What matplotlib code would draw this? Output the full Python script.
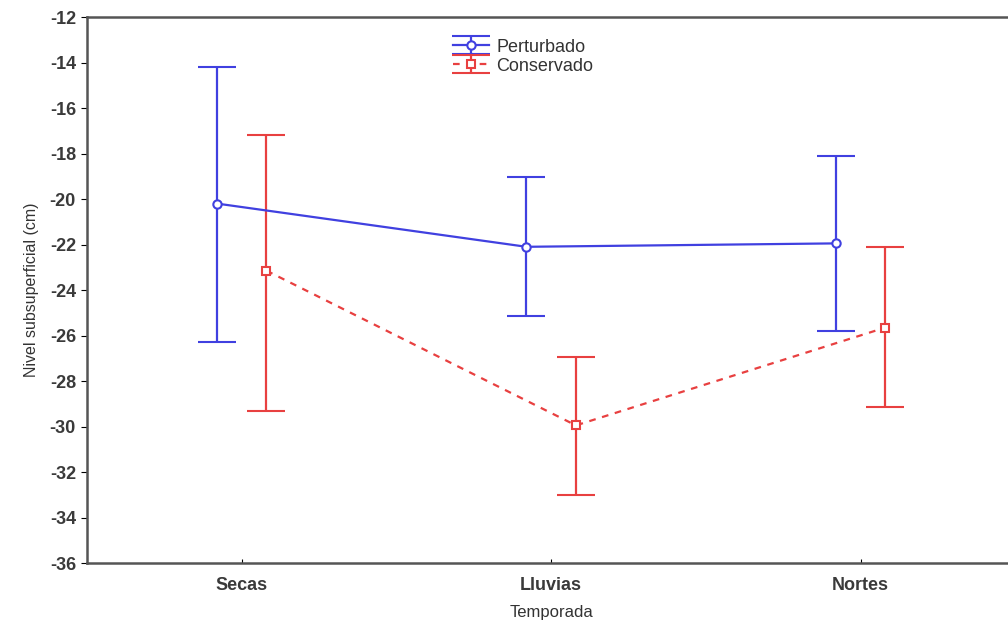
import matplotlib
matplotlib.use("Agg")
import matplotlib.pyplot as plt
import numpy as np

categories = ["Secas", "Lluvias", "Nortes"]
pert_mean = [-20.2, -22.1, -21.95]
pert_upper = [-14.2, -19.05, -18.1]
pert_lower = [-26.3, -25.15, -25.8]
cons_mean = [-23.15, -29.95, -25.65]
cons_upper = [-17.2, -26.95, -22.1]
cons_lower = [-29.3, -33.0, -29.15]

blue = "#4040e0"
red = "#e84040"

plt.rcParams['font.family'] = ['Liberation Sans', 'DejaVu Sans']
plt.rcParams['axes.unicode_minus'] = False
fig = plt.figure(figsize=(10.08, 6.26), dpi=100)
ax = fig.add_axes([0.0863, 0.1006, 0.921, 0.8722])

x = np.arange(len(categories))
off = 0.08

pm = np.array(pert_mean); cm = np.array(cons_mean)
perr = [pm - np.array(pert_lower), np.array(pert_upper) - pm]
cerr = [cm - np.array(cons_lower), np.array(cons_upper) - cm]

ax.errorbar(x - off, pm, yerr=perr, color=blue, lw=1.6, marker='o', ms=6,
            mfc='white', mec=blue, mew=1.5, capsize=14, capthick=1.6,
            elinewidth=1.6, label="Perturbado", zorder=3)
ax.errorbar(x + off, cm, yerr=cerr, color=red, lw=1.6, ls=(0, (3, 3)), marker='s', ms=6,
            mfc='white', mec=red, mew=1.5, capsize=14, capthick=1.6,
            elinewidth=1.6, label="Conservado", zorder=3)

ax.set_xlim(-0.5, 2.5)
ax.set_ylim(-36, -12)
ax.set_yticks(np.arange(-36, -11, 2))
ax.set_xticks(x)
ax.set_xticklabels(categories)
ax.tick_params(axis='y', direction='out', length=4, labelsize=13, pad=4)
ax.tick_params(axis='x', direction='in', length=3, labelsize=13, pad=10)
for lab in ax.get_yticklabels() + ax.get_xticklabels():
    lab.set_fontweight('semibold')
    lab.set_color('#3a3a3a')
for s in ax.spines.values():
    s.set_linewidth(1.8)
    s.set_color('#555555')

ax.set_xlabel("Temporada", fontsize=12, color='#333333', labelpad=8)
ax.set_ylabel("Nivel subsuperficial (cm)", fontsize=11.5, color='#333333', labelpad=8)

leg = ax.legend(loc='upper center', bbox_to_anchor=(0.47, 0.99), frameon=False,
                fontsize=13, handlelength=2.0, handletextpad=0.4, labelspacing=0.1)
for t in leg.get_texts():
    t.set_color('#333333')

fig.savefig("out.png", dpi=100)
